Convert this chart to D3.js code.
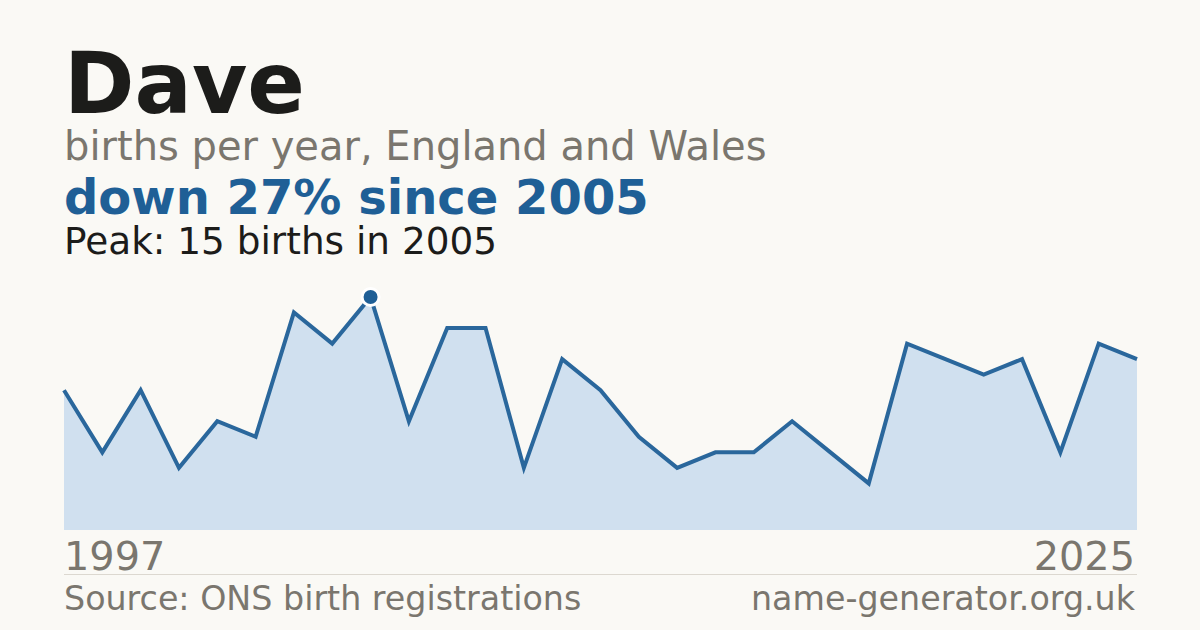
<!DOCTYPE html>
<html>
<head>
<meta charset="utf-8">
<script src="https://cdn.jsdelivr.net/npm/d3@7"></script>
<style>
  body { margin: 0; background: #faf9f5; }
  svg { display: block; font-family: "DejaVu Sans", sans-serif; }
</style>
</head>
<body>
<svg id="chart" width="1200" height="630"></svg>
<script>
// births per year for "Dave"
var years = d3.range(1997, 2026);
var births = [9, 5, 9, 4, 7, 6, 14, 12, 15, 7, 13, 13, 4, 11, 9, 6, 4, 5, 5, 7, 5, 3, 12, 11, 10, 11, 5, 12, 11];
var startLabel = "1997";
var endLabel = "2025";

var W = 1200, H = 630;
var plotLeft = 64, plotRight = 1137, plotBottom = 530, plotTop = 297;

var svg = d3.select("#chart");
svg.append("rect").attr("width", W).attr("height", H).attr("fill", "#faf9f5");

var data = years.map(function(yr, i){ return {year: yr, n: births[i]}; });

var x = d3.scaleLinear().domain(d3.extent(years)).range([plotLeft, plotRight]);
var y = d3.scaleLinear().domain([0, d3.max(births)]).range([plotBottom, plotTop]);

// peak + change since peak
var peak = data.reduce(function(a, b){ return b.n > a.n ? b : a; });
var last = data[data.length - 1];
var change = Math.round((1 - last.n / peak.n) * 100);

// headings
svg.append("text").attr("x", 64).attr("y", 113)
  .attr("font-size", 85).attr("font-weight", "bold").attr("fill", "#1c1c1a")
  .text("Dave");
svg.append("text").attr("x", 64).attr("y", 160)
  .attr("font-size", 40).attr("fill", "#7a766e")
  .text("births per year, England and Wales");
svg.append("text").attr("x", 64).attr("y", 214)
  .attr("font-size", 48).attr("font-weight", "bold").attr("fill", "#1f5f96")
  .text("down " + change + "% since " + peak.year);
svg.append("text").attr("x", 64).attr("y", 254)
  .attr("font-size", 37.4).attr("fill", "#1c1c1a")
  .text("Peak: " + peak.n + " births in " + peak.year);

// area + line
var area = d3.area()
  .x(function(d){ return x(d.year); })
  .y0(plotBottom)
  .y1(function(d){ return y(d.n); });
var line = d3.line()
  .x(function(d){ return x(d.year); })
  .y(function(d){ return y(d.n); });

svg.append("path").datum(data).attr("d", area).attr("fill", "#d0e0ef");
svg.append("path").datum(data).attr("d", line)
  .attr("fill", "none").attr("stroke", "#2a679c").attr("stroke-width", 4)
  .attr("stroke-linejoin", "miter");

// peak marker
svg.append("circle")
  .attr("cx", x(peak.year)).attr("cy", y(peak.n)).attr("r", 8.5)
  .attr("fill", "#1f5f96").attr("stroke", "#ffffff").attr("stroke-width", 3);

// year labels
svg.append("text").attr("x", 64).attr("y", 570)
  .attr("font-size", 39.8).attr("fill", "#7a766e").text(startLabel);
svg.append("text").attr("x", 1135).attr("y", 570).attr("text-anchor", "end")
  .attr("font-size", 39.8).attr("fill", "#7a766e").text(endLabel);

// rule + footer
svg.append("line").attr("x1", 64).attr("x2", 1137).attr("y1", 574.5).attr("y2", 574.5)
  .attr("stroke", "#dcd8d0").attr("stroke-width", 1);
svg.append("text").attr("x", 64).attr("y", 610)
  .attr("font-size", 33.3).attr("fill", "#7a766e").text("Source: ONS birth registrations");
svg.append("text").attr("x", 1135).attr("y", 610).attr("text-anchor", "end")
  .attr("font-size", 33.3).attr("fill", "#7a766e").text("name-generator.org.uk");
</script>
</body>
</html>
